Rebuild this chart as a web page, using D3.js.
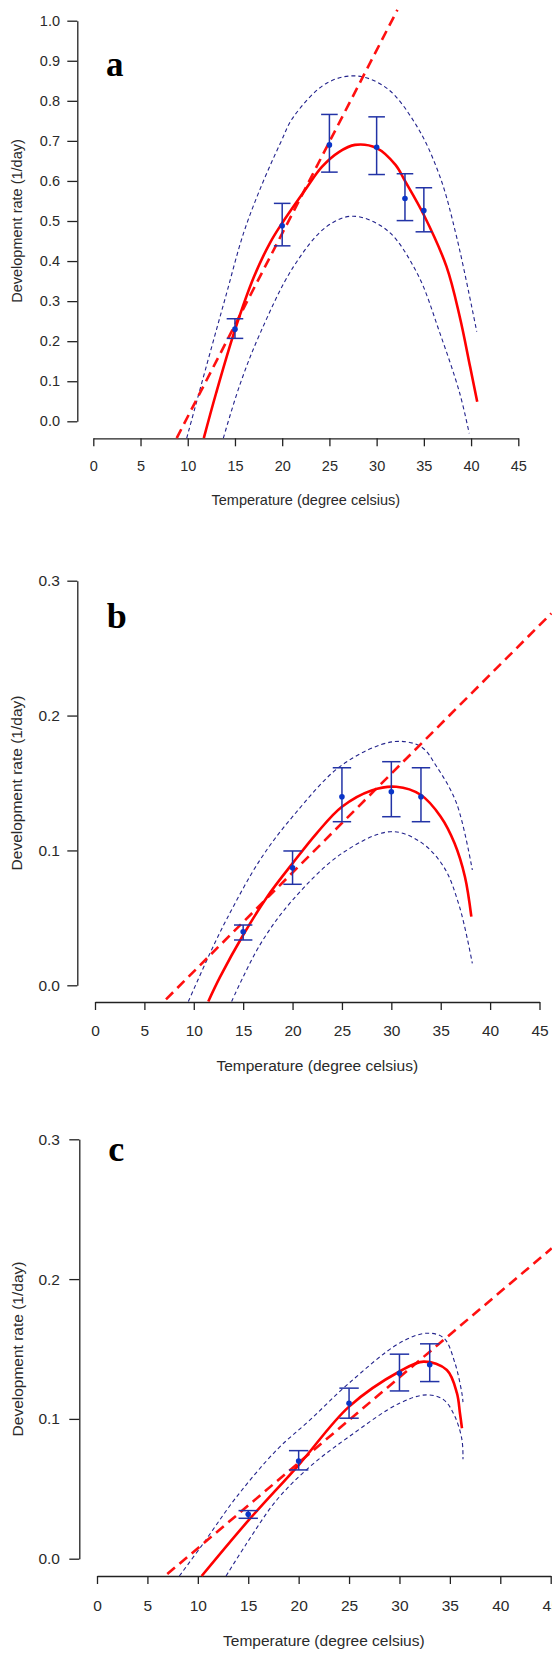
<!DOCTYPE html>
<html>
<head>
<meta charset="utf-8">
<script src="https://cdn.jsdelivr.net/npm/d3@7"></script>
<style>
  html, body { margin: 0; padding: 0; background: #fff; }
  svg { display: block; }
</style>
</head>
<body>
<svg id="chart" width="552" height="1654"></svg>
<script>
'use strict';

// x ticks shared by the three panels
var xTicks = [0, 5, 10, 15, 20, 25, 30, 35, 40, 45];
var xTitle = 'Temperature (degree celsius)';
var yTitle = 'Development rate (1/day)';

// panel a - observed means with error bars
var tempsA = [15, 20, 25, 30, 33, 35];
var rateA = [0.230, 0.488, 0.690, 0.684, 0.556, 0.526];
var lowA = [0.207, 0.438, 0.622, 0.616, 0.501, 0.473];
var highA = [0.256, 0.544, 0.766, 0.760, 0.618, 0.583];
// panel a - fitted curves, [temperature, rate]
var fitA = [[11.7, -0.042], [13, 0.07], [15, 0.228], [17, 0.36], [18.7, 0.445], [20, 0.495],
    [22.5, 0.58], [24.2, 0.635], [26, 0.672], [27.7, 0.69], [30, 0.682], [32, 0.64],
    [33, 0.60], [35, 0.515], [37.4, 0.386], [38.8, 0.261], [39.9, 0.136], [40.65, 0.049]];
var linA = [[8.83, -0.042], [32.2, 1.027]];
var upperA = [[9.89, -0.042], [12, 0.14], [14, 0.31], [15.9, 0.469], [17.7, 0.582], [19.8, 0.694],
    [21.2, 0.76], [24.7, 0.844], [27.9, 0.862], [31.1, 0.831], [34.3, 0.735], [36.7, 0.611],
    [38.5, 0.457], [40.6, 0.224]];
var lowerA = [[13.77, -0.042], [15.5, 0.09], [17.65, 0.219], [21.2, 0.386], [24.7, 0.486],
    [27.5, 0.512], [31.1, 0.477], [34.3, 0.369], [36.7, 0.22], [38.8, 0.07], [39.8, -0.03]];
var yTicksA = [0, 0.1, 0.2, 0.3, 0.4, 0.5, 0.6, 0.7, 0.8, 0.9, 1.0];

// panel b
var tempsB = [15, 20, 25, 30, 33];
var rateB = [0.0397, 0.0872, 0.1398, 0.1435, 0.1398];
var lowB = [0.0336, 0.0749, 0.1213, 0.125, 0.1213];
var highB = [0.0447, 0.0996, 0.1613, 0.1658, 0.1613];
var fitB = [[11.47, -0.012], [12.65, 0.006], [15, 0.0373], [17.44, 0.0657], [20, 0.0904],
    [22.44, 0.1127], [25, 0.1324], [28, 0.1445], [30.5, 0.1472], [33, 0.1411], [35, 0.125],
    [36.4, 0.1053], [37.45, 0.0805], [38.1, 0.0509]];
var linB = [[7.19, -0.0104], [46.2, 0.2758]];
var upperB = [[9.45, -0.012], [11.64, 0.0237], [13.33, 0.049], [16.7, 0.0929], [20, 0.125],
    [25, 0.1633], [30.2, 0.1806], [33, 0.1769], [34.6, 0.162], [36.6, 0.135], [38.2, 0.0855]];
var lowerB = [[13.83, -0.012], [16.7, 0.03], [20, 0.0632], [25, 0.0978], [29.9, 0.1139],
    [32.9, 0.1065], [35.3, 0.0879], [36.9, 0.0583], [38.2, 0.0163]];
var yTicksB = [0, 0.1, 0.2, 0.3];

// panel c
var tempsC = [15, 20, 25, 30, 33];
var rateC = [0.0318, 0.0699, 0.1112, 0.1327, 0.1387];
var lowC = [0.0289, 0.0635, 0.1005, 0.12, 0.1267];
var highC = [0.0344, 0.0773, 0.122, 0.1463, 0.1537];
var fitC = [[10.38, -0.0124], [15, 0.0272], [20, 0.067], [25, 0.1088], [30, 0.1339],
    [32.4, 0.141], [34.7, 0.135], [35.7, 0.1184], [36.0, 0.104], [36.2, 0.0933]];
var linC = [[6.97, -0.011], [45.1, 0.222]];
var upperC = [[8.17, -0.0124], [10.55, 0.011], [13.86, 0.0444], [17.83, 0.0778], [21.13, 0.0993],
    [25, 0.1256], [30, 0.1542], [32.7, 0.1613], [34.4, 0.1578], [35.5, 0.14], [36.2, 0.118],
    [36.3, 0.112]];
var lowerC = [[12.8, -0.0124], [14.85, 0.011], [17.83, 0.042], [21.13, 0.0659], [25, 0.0873],
    [30, 0.1112], [32.7, 0.1172], [34.4, 0.1136], [35.5, 0.1017], [36.2, 0.085], [36.3, 0.0711]];
var yTicksC = [0, 0.1, 0.2, 0.3];

var SANS = '"Liberation Sans", Arial, sans-serif';
var SERIF = '"Liberation Serif", "Times New Roman", serif';
var INK = '#222';

var panels = [
    {letter: 'a', temps: tempsA, rate: rateA, low: lowA, high: highA, fit: fitA, lin: linA,
     upper: upperA, lower: lowerA, yTicks: yTicksA,
     x0: 93.3, x45: 518.3, y0: 421.3, yTop: 20.7, xAxisY: 438.3, yAxisX: 77.3,
     fs: 14.5, labelOff: 28, titleY: 500, yTitleX: 17, letterX: 106, letterY: 76, letterFs: 35, cap: 8.3},
    {letter: 'b', temps: tempsB, rate: rateB, low: lowB, high: highB, fit: fitB, lin: linB,
     upper: upperB, lower: lowerB, yTicks: yTicksB,
     x0: 95, x45: 539.5, y0: 985.3, yTop: 580.7, xAxisY: 1002, yAxisX: 77.3,
     fs: 15.5, labelOff: 28, titleY: 1066, yTitleX: 17, letterX: 106.7, letterY: 628.3, letterFs: 36, cap: 9.2},
    {letter: 'c', temps: tempsC, rate: rateC, low: lowC, high: highC, fit: fitC, lin: linC,
     upper: upperC, lower: lowerC, yTicks: yTicksC,
     x0: 97, x45: 550.7, y0: 1558.7, yTop: 1139.3, xAxisY: 1576, yAxisX: 79.3,
     fs: 15.5, labelOff: 29, titleY: 1641, yTitleX: 17.5, letterX: 108.3, letterY: 1161, letterFs: 36, cap: 9.7}
];

var svg = d3.select('#chart');

function drawPanel(p) {
    var yMax = p.yTicks[p.yTicks.length - 1];
    var x = d3.scaleLinear().domain([0, 45]).range([p.x0, p.x45]);
    var y = d3.scaleLinear().domain([0, yMax]).range([p.y0, p.yTop]);
    var g = svg.append('g').attr('class', 'panel-' + p.letter);

    // x axis, drawn below the zero line as in the original
    var xAxis = d3.axisBottom(x).tickValues(xTicks).tickSize(8).tickSizeOuter(0)
        .tickPadding(p.labelOff - 8 - 0.352 * p.fs);
    var gx = g.append('g').attr('transform', 'translate(0,' + p.xAxisY + ')').call(xAxis);

    var yAxis = d3.axisLeft(y).tickValues(p.yTicks).tickSize(10).tickSizeOuter(0)
        .tickPadding(p.yAxisX - 10 - 60).tickFormat(d3.format('.1f'));
    var gy = g.append('g').attr('transform', 'translate(' + p.yAxisX + ',0)').call(yAxis);

    [gx, gy].forEach(function(a) {
        a.attr('color', INK).attr('font-family', SANS).attr('font-size', p.fs);
        a.selectAll('path, line').attr('stroke-width', 1.3);
        a.selectAll('text').attr('fill', '#2a2a2a');
    });

    // axis titles
    var cx = (p.x0 + p.x45) / 2;
    g.append('text')
        .attr('x', cx).attr('y', p.titleY + 0.35 * p.fs)
        .attr('text-anchor', 'middle')
        .attr('font-family', SANS).attr('font-size', p.fs).attr('fill', '#2a2a2a')
        .text(xTitle);
    var cy = (p.y0 + p.yTop) / 2;
    g.append('text')
        .attr('transform', 'translate(' + (p.yTitleX + 0.35 * p.fs) + ',' + cy + ') rotate(-90)')
        .attr('text-anchor', 'middle')
        .attr('font-family', SANS).attr('font-size', p.fs).attr('fill', '#2a2a2a')
        .text(yTitle);

    // panel letter
    g.append('text')
        .attr('x', p.letterX).attr('y', p.letterY)
        .attr('font-family', SERIF).attr('font-weight', 'bold').attr('font-size', p.letterFs)
        .attr('fill', '#000')
        .text(p.letter);

    var line = d3.line()
        .x(function(d) { return x(d[0]); })
        .y(function(d) { return y(d[1]); })
        .curve(d3.curveCatmullRom.alpha(0.5));

    // confidence bands
    [p.upper, p.lower].forEach(function(band) {
        g.append('path').datum(band)
            .attr('d', line)
            .attr('fill', 'none')
            .attr('stroke', '#23238c')
            .attr('stroke-width', 1.1)
            .attr('stroke-dasharray', '4,3');
    });

    // linear model
    g.append('path').datum(p.lin)
        .attr('d', d3.line().x(function(d) { return x(d[0]); }).y(function(d) { return y(d[1]); }))
        .attr('fill', 'none')
        .attr('stroke', '#ff1010')
        .attr('stroke-width', 2.6)
        .attr('stroke-dasharray', '10,6');

    // nonlinear model
    g.append('path').datum(p.fit)
        .attr('d', line)
        .attr('fill', 'none')
        .attr('stroke', '#ff0000')
        .attr('stroke-width', 2.6);

    // error bars
    var bars = g.append('g').attr('stroke', '#2233a6').attr('stroke-width', 1.5);
    p.temps.forEach(function(t, i) {
        var xi = x(t);
        bars.append('line').attr('x1', xi).attr('x2', xi).attr('y1', y(p.low[i])).attr('y2', y(p.high[i]));
        bars.append('line').attr('x1', xi - p.cap).attr('x2', xi + p.cap).attr('y1', y(p.low[i])).attr('y2', y(p.low[i]));
        bars.append('line').attr('x1', xi - p.cap).attr('x2', xi + p.cap).attr('y1', y(p.high[i])).attr('y2', y(p.high[i]));
    });

    g.selectAll('circle.obs').data(p.temps).enter()
        .append('circle')
        .attr('class', 'obs')
        .attr('cx', function(t) { return x(t); })
        .attr('cy', function(t, i) { return y(p.rate[i]); })
        .attr('r', 2.8)
        .attr('fill', '#0a35c8');
}

panels.forEach(drawPanel);
</script>
</body>
</html>
